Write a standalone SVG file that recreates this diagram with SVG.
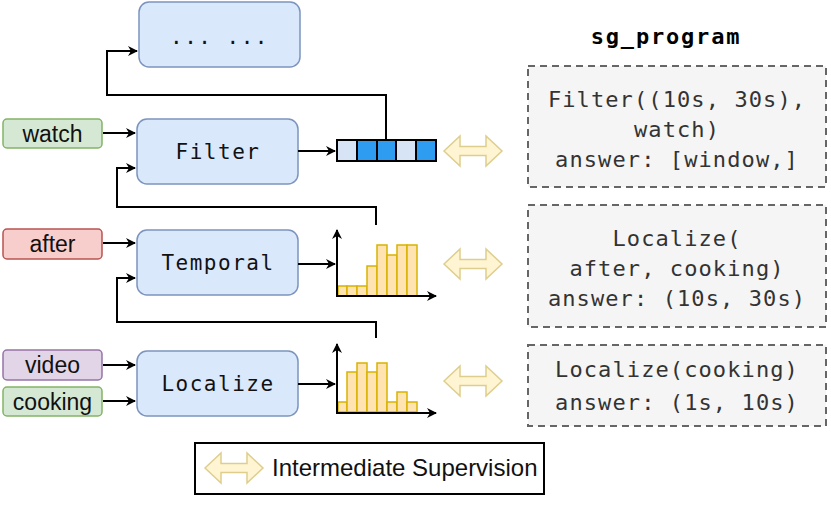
<svg xmlns="http://www.w3.org/2000/svg" width="831" height="506" viewBox="0 0 831 506">
<style>
.node{fill:#dae8fc;stroke:#7c94bd;stroke-width:1.5}
.ntxt{font-family:"DejaVu Sans Mono",monospace;font-size:21px;letter-spacing:1.5px;fill:#111;text-anchor:middle}
.lbl{font-family:"Liberation Sans",Arial,sans-serif;font-size:23px;fill:#111;text-anchor:middle}
.conn{fill:none;stroke:#000;stroke-width:2}
.bar{fill:#ffe3b0;stroke:#d9b300;stroke-width:1.5}
.dbl{fill:#fff4cc;stroke:#d9c67a;stroke-width:1.5;opacity:0.85}
.pbox{fill:#f5f5f5;stroke:#666;stroke-width:2;stroke-dasharray:7 5}
.ptxt{font-family:"DejaVu Sans Mono",monospace;font-size:22px;letter-spacing:1.1px;fill:#333;text-anchor:middle}
</style>
<defs>
<marker id="ah" viewBox="0 0 10 10" refX="9" refY="5" markerWidth="5" markerHeight="5" orient="auto" markerUnits="strokeWidth">
<path d="M0,0 L10,5 L0,10 L3,5 Z" fill="#000"/>
</marker>
<path id="dblarrow" d="M0,15 L16,0 L16,10.5 L42,10.5 L42,0 L58,15 L42,30 L42,19.5 L16,19.5 L16,30 Z"/>
</defs>
<rect width="831" height="506" fill="#fff"/>

<g id="node-dots"><rect class="node" x="139" y="2" width="161" height="65" rx="10"/><text class="ntxt" x="219.5" y="44">... ...</text></g>
<g id="node-filter"><rect class="node" x="137" y="119" width="161" height="65" rx="10"/><text class="ntxt" x="218" y="159">Filter</text></g>
<g id="node-temporal"><rect class="node" x="137" y="230" width="161" height="65" rx="10"/><text class="ntxt" x="218" y="270">Temporal</text></g>
<g id="node-localize"><rect class="node" x="137" y="351" width="161" height="65" rx="10"/><text class="ntxt" x="218" y="391">Localize</text></g>

<g id="lbl-watch"><rect x="3" y="119" width="99" height="29" rx="4" fill="#d5e8d4" stroke="#82b366" stroke-width="1.5"/><text class="lbl" x="52.5" y="142">watch</text></g>
<g id="lbl-after"><rect x="3" y="229" width="99" height="30" rx="4" fill="#f8cecc" stroke="#b85450" stroke-width="1.5"/><text class="lbl" x="52.5" y="252">after</text></g>
<g id="lbl-video"><rect x="3" y="350" width="99" height="30" rx="4" fill="#e1d5e7" stroke="#9673a6" stroke-width="1.5"/><text class="lbl" x="52.5" y="373">video</text></g>
<g id="lbl-cooking"><rect x="3" y="387" width="99" height="29" rx="4" fill="#d5e8d4" stroke="#82b366" stroke-width="1.5"/><text class="lbl" x="52.5" y="410">cooking</text></g>

<g id="array">
<rect x="337" y="140" width="20" height="21" fill="#d6e4f5" stroke="#000" stroke-width="2"/>
<rect x="357" y="140" width="20" height="21" fill="#2e9cf0" stroke="#000" stroke-width="2"/>
<rect x="377" y="140" width="19" height="21" fill="#2e9cf0" stroke="#000" stroke-width="2"/>
<rect x="396" y="140" width="20" height="21" fill="#d6e4f5" stroke="#000" stroke-width="2"/>
<rect x="416" y="140" width="20" height="21" fill="#2e9cf0" stroke="#000" stroke-width="2"/>
</g>

<g id="hist-temporal">
<rect class="bar" x="338" y="286" width="9" height="10"/>
<rect class="bar" x="347" y="286" width="10" height="10"/>
<rect class="bar" x="357" y="286" width="10" height="10"/>
<rect class="bar" x="367" y="266" width="10" height="30"/>
<rect class="bar" x="377" y="245" width="10" height="51"/>
<rect class="bar" x="387" y="255" width="10" height="41"/>
<rect class="bar" x="397" y="245" width="10" height="51"/>
<rect class="bar" x="407" y="245" width="10" height="51"/>
<path class="conn" d="M337,297 V230" marker-end="url(#ah)"/>
<path class="conn" d="M336,296 H436" marker-end="url(#ah)"/>
</g>

<g id="hist-localize">
<rect class="bar" x="338" y="402" width="9" height="10"/>
<rect class="bar" x="347" y="372" width="10" height="40"/>
<rect class="bar" x="357" y="363" width="10" height="49"/>
<rect class="bar" x="367" y="372" width="10" height="40"/>
<rect class="bar" x="377" y="363" width="10" height="49"/>
<rect class="bar" x="387" y="402" width="10" height="10"/>
<rect class="bar" x="397" y="392" width="10" height="20"/>
<rect class="bar" x="407" y="402" width="10" height="10"/>
<path class="conn" d="M337,413 V344" marker-end="url(#ah)"/>
<path class="conn" d="M336,413 H436" marker-end="url(#ah)"/>
</g>

<g id="connectors">
<path class="conn" d="M103,133 H135" marker-end="url(#ah)"/>
<path class="conn" d="M103,243 H135" marker-end="url(#ah)"/>
<path class="conn" d="M103,365 H135" marker-end="url(#ah)"/>
<path class="conn" d="M103,401 H135" marker-end="url(#ah)"/>
<path class="conn" d="M298,151 H335" marker-end="url(#ah)"/>
<path class="conn" d="M298,264 H335" marker-end="url(#ah)"/>
<path class="conn" d="M298,384 H335" marker-end="url(#ah)"/>
<path class="conn" d="M386,140 V95 H107 V51 H137" marker-end="url(#ah)"/>
<path class="conn" d="M376,225 V207 H117 V168 H135" marker-end="url(#ah)"/>
<path class="conn" d="M376,338 V322 H117 V278 H135" marker-end="url(#ah)"/>
</g>

<g id="supervision-arrows">
<use href="#dblarrow" class="dbl" x="444" y="136"/>
<use href="#dblarrow" class="dbl" x="444" y="249"/>
<use href="#dblarrow" class="dbl" x="444" y="366"/>
</g>

<g id="program">
<text x="666" y="44" font-family="'DejaVu Sans Mono',monospace" font-weight="bold" font-size="22px" letter-spacing="1.8px" text-anchor="middle" fill="#000">sg_program</text>
<rect class="pbox" x="528" y="66" width="298" height="121"/>
<text class="ptxt" x="677" y="107">Filter((10s, 30s),</text>
<text class="ptxt" x="677" y="137">watch)</text>
<text class="ptxt" x="677" y="167">answer: [window,]</text>
<rect class="pbox" x="528" y="205" width="298" height="122"/>
<text class="ptxt" x="677" y="246">Localize(</text>
<text class="ptxt" x="677" y="276">after, cooking)</text>
<text class="ptxt" x="677" y="306">answer: (10s, 30s)</text>
<rect class="pbox" x="528" y="345" width="298" height="81"/>
<text class="ptxt" x="677" y="377">Localize(cooking)</text>
<text class="ptxt" x="677" y="410">answer: (1s, 10s)</text>
</g>

<g id="legend">
<rect x="195" y="443" width="349" height="51" fill="#fff" stroke="#000" stroke-width="2"/>
<use href="#dblarrow" class="dbl" x="205" y="453"/>
<text x="272" y="476" font-family="'Liberation Sans',Arial,sans-serif" font-size="24px" fill="#111">Intermediate Supervision</text>
</g>
</svg>
